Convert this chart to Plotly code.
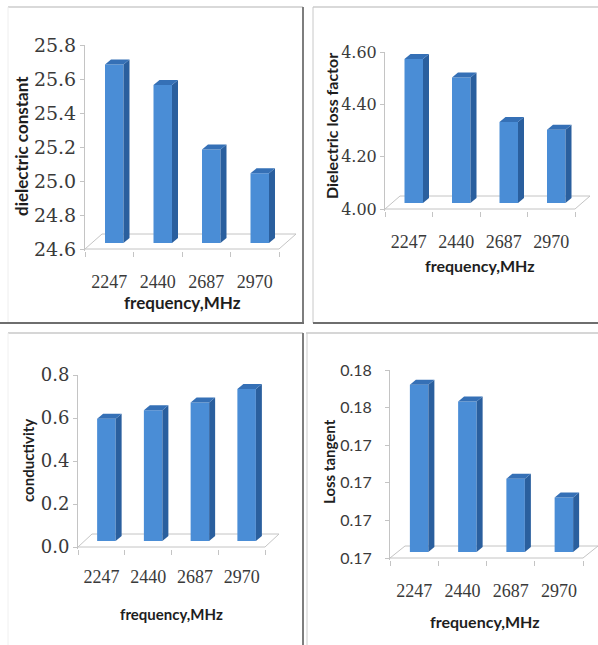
import plotly.graph_objects as go

W, H = 598, 645

# Frequencies (MHz) shared by all four panels
freq_labels = ["2247", "2440", "2687", "2970"]

# Measured quantities
dielectric_constant = [25.65, 25.53, 25.15, 25.01]
loss_factor = [4.55, 4.48, 4.31, 4.28]
conductivity = [0.569, 0.608, 0.644, 0.707]
loss_tangent = [0.1769, 0.1760, 0.1719, 0.1709]

# Value-axis settings per panel: (min, max, step, format)
axis_dielectric = (24.6, 25.8, 0.2, ".1f")
axis_loss_factor = (4.0, 4.6, 0.2, ".2f")
axis_conductivity = (0.0, 0.8, 0.2, ".1f")
axis_loss_tangent = (0.168, 0.178, 0.002, ".2f")

SERIF = "DejaVu Serif"
SERIF_X = "Liberation Serif"
SANS = "Lato"
FRONT = "#4A8DD6"
SIDE = "#2A5F9E"
TOP = "#3570B6"
FLOOR = "#c4c4c4"
TICK_TXT = "#3a3a3a"
TITLE_TXT = "#1e1e1e"

# Pixel geometry of each panel (front-plane plot box) and its texts
panels = [
    dict(values=dielectric_constant, axis=axis_dielectric, ytitle="dielectric constant",
         x0=85, x1=279, ytop=45, ybot=249, floor=(17, 15),
         yfont=dict(family=SERIF, size=19), ystand=0,
         xfont=dict(family=SERIF_X, size=18), xstand=18,
         ytitle_pos=(21, 146), ytitle_size=17, xtitle_pos=(182, 302), xtitle_size=17),
    dict(values=loss_factor, axis=axis_loss_factor, ytitle="Dielectric loss factor",
         x0=385, x1=575, ytop=52, ybot=209, floor=(15, 13),
         yfont=dict(family=SERIF, size=16), ystand=0,
         xfont=dict(family=SERIF_X, size=18), xstand=18,
         ytitle_pos=(332, 126), ytitle_size=16, xtitle_pos=(480, 265), xtitle_size=16),
    dict(values=conductivity, axis=axis_conductivity, ytitle="conductivity",
         x0=78, x1=265, ytop=375, ybot=547, floor=(14, 13),
         yfont=dict(family=SERIF, size=18), ystand=0,
         xfont=dict(family=SERIF_X, size=18), xstand=15,
         ytitle_pos=(28, 460), ytitle_size=15, xtitle_pos=(172, 614), xtitle_size=15),
    dict(values=loss_tangent, axis=axis_loss_tangent, ytitle="Loss tangent",
         x0=390, x1=583, ytop=370, ybot=558, floor=(15, 12),
         yfont=dict(family=SANS, size=16), ystand=10,
         xfont=dict(family=SERIF_X, size=18), xstand=18,
         ytitle_pos=(329, 462), ytitle_size=15, xtitle_pos=(485, 621), xtitle_size=16),
]

fig = go.Figure()
annotations = []
shapes = []
n = len(freq_labels)
idx = list(range(n))

for k, p in enumerate(panels, start=1):
    sfx = "" if k == 1 else str(k)
    xa, ya = "x" + sfx, "y" + sfx
    ymin, ymax, step, fmt = p["axis"]
    pxu = (p["x1"] - p["x0"]) / n                 # pixels per category
    pyu = (p["ybot"] - p["ytop"]) / (ymax - ymin)  # pixels per value unit
    fdx, fdy = p["floor"][0] / pxu, p["floor"][1] / pyu
    sx, sy = 5 / pxu, 6 / pyu          # bar placement inside the depth
    bw = 18.5 / pxu                    # bar front width
    ddx, ddy = 6 / pxu, 5 / pyu        # bar depth
    base = ymin + sy

    # floor outline, kept beneath the bars
    fx = [-0.5, n - 0.5, n - 0.5 + fdx, -0.5 + fdx]
    fy = [ymin, ymin, ymin + fdy, ymin + fdy]
    path = "M " + " L ".join(f"{a},{b}" for a, b in zip(fx, fy)) + " Z"
    shapes.append(dict(type="path", xref=xa, yref=ya, path=path, layer="below",
                       line=dict(color=FLOOR, width=1), fillcolor="rgba(0,0,0,0)"))

    vals = p["values"]
    # front faces
    fig.add_trace(go.Bar(
        x=idx, y=[v - ymin for v in vals], base=[base] * n,
        width=bw, offset=-bw / 2 + sx,
        marker=dict(color=FRONT, line=dict(width=0)),
        xaxis=xa, yaxis=ya, hoverinfo="skip"))

    for i, v in enumerate(vals):
        xl = i - bw / 2 + sx
        xr = xl + bw
        top = v + sy
        # side face
        fig.add_trace(go.Scatter(
            x=[xr, xr + ddx, xr + ddx, xr, xr],
            y=[base, base + ddy, top + ddy, top, base],
            fill="toself", fillcolor=SIDE, mode="lines", line=dict(width=0, color=SIDE),
            xaxis=xa, yaxis=ya, hoverinfo="skip"))
        # top face
        fig.add_trace(go.Scatter(
            x=[xl, xr, xr + ddx, xl + ddx, xl],
            y=[top, top, top + ddy, top + ddy, top],
            fill="toself", fillcolor=TOP, mode="lines", line=dict(width=0, color=TOP),
            xaxis=xa, yaxis=ya, hoverinfo="skip"))

    right_px = min(p["x1"] + p["floor"][0] + 3, W)
    ext = (right_px - p["x1"]) / pxu
    eps_b = 1.5 / pyu
    eps_t = 0.5 / pyu
    fig.update_layout({
        "xaxis" + sfx: dict(
            domain=[p["x0"] / W, right_px / W],
            range=[-0.5, n - 0.5 + ext], anchor=ya, automargin=False,
            tickmode="array", tickvals=idx, ticktext=freq_labels,
            ticks="", showline=False, showgrid=False, zeroline=False,
            tickfont=dict(color=TICK_TXT, **p["xfont"]),
            ticklabelstandoff=p["xstand"],
            minor=dict(tickmode="array", tickvals=[i - 0.5 for i in range(n + 1)],
                       ticks="outside", ticklen=5, tickwidth=1, tickcolor=FLOOR,
                       showgrid=False),
            fixedrange=True),
        "yaxis" + sfx: dict(
            domain=[1 - (p["ybot"] + 1.5) / H, 1 - (p["ytop"] - 0.5) / H],
            range=[ymin - eps_b, ymax + eps_t], anchor=xa, automargin=False,
            tickmode="linear", tick0=ymin, dtick=step, tickformat=fmt,
            ticks="outside", ticklen=4, tickwidth=1, tickcolor=FLOOR,
            showline=True, linecolor=FLOOR, linewidth=1,
            showgrid=False, zeroline=False,
            tickfont=dict(color=TICK_TXT, **p["yfont"]),
            ticklabelstandoff=p["ystand"],
            fixedrange=True),
    })

    tx, ty = p["ytitle_pos"]
    annotations.append(dict(
        text=p["ytitle"], xref="paper", yref="paper", x=tx / W, y=1 - ty / H,
        xanchor="center", yanchor="middle", textangle=-90, showarrow=False,
        font=dict(family=SANS, size=p["ytitle_size"], color=TITLE_TXT, weight="bold")))
    tx, ty = p["xtitle_pos"]
    annotations.append(dict(
        text="frequency,MHz", xref="paper", yref="paper", x=tx / W, y=1 - ty / H,
        xanchor="center", yanchor="middle", showarrow=False,
        font=dict(family=SANS, size=p["xtitle_size"], color=TITLE_TXT, weight="bold")))


# panel frames
def hline(x0, x1, y, color, width):
    return dict(type="line", xref="paper", yref="paper", x0=x0 / W, x1=x1 / W,
                y0=1 - y / H, y1=1 - y / H, line=dict(color=color, width=width))


def vline(x, y0, y1, color, width):
    return dict(type="line", xref="paper", yref="paper", x0=x / W, x1=x / W,
                y0=1 - y0 / H, y1=1 - y1 / H, line=dict(color=color, width=width))


shapes += [
    hline(8, 303, 7, "#cccccc", 1.5),
    vline(8, 7, 323, "#eeeeee", 1),
    vline(303, 7, 323, "#7e7e7e", 2),
    hline(0, 304, 323, "#6e6e6e", 2),
    hline(313, 598, 7, "#cccccc", 1.5),
    vline(313, 7, 323, "#c8c8c8", 1),
    hline(313, 598, 323, "#6e6e6e", 2),
    hline(8, 303, 333, "#c8c8c8", 1.5),
    vline(8, 333, 645, "#f0f0f0", 1),
    vline(303, 333, 645, "#7e7e7e", 2),
    hline(306, 598, 333, "#c8c8c8", 1.5),
    vline(307, 333, 645, "#cccccc", 1),
]

fig.update_layout(
    width=W, height=H, margin=dict(l=0, r=0, t=0, b=0, autoexpand=False),
    paper_bgcolor="white", plot_bgcolor="white",
    showlegend=False, barmode="overlay",
    annotations=annotations, shapes=shapes,
)

fig.write_html("out.html")
